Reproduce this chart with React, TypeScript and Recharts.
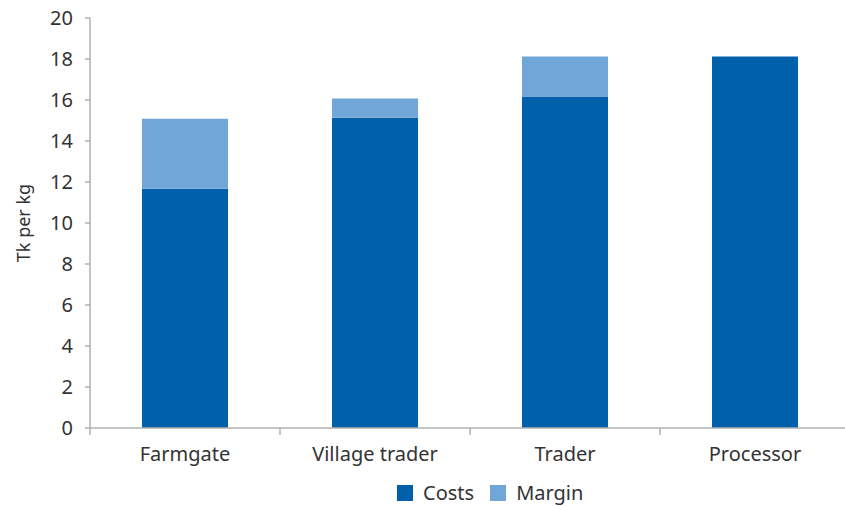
import { BarChart, Bar, XAxis, YAxis, Legend } from "recharts";

const stages = ["Farmgate", "Village trader", "Trader", "Processor"];
const costs = [11.67, 15.14, 16.17, 18.12];
const margin = [3.42, 0.93, 1.95, 0];
const yTicks = [0, 2, 4, 6, 8, 10, 12, 14, 16, 18, 20];

const data = stages.map((stage, i) => ({
  stage,
  Costs: costs[i],
  Margin: margin[i],
}));

const FONT = "'Noto Sans', sans-serif";
const TEXT = "#333333";
const AXIS = "#B0B0B0";
const COST_COLOR = "#0060A9";
const MARGIN_COLOR = "#70A6D8";

function StageTick(props: any) {
  const { x, y, payload } = props;
  const half = payload.offset || 0;
  const axisY = y - 19;
  return (
    <g>
      <line x1={x - half} y1={axisY} x2={x - half} y2={axisY + 7} stroke={AXIS} strokeWidth={1.5} />
      <text x={x} y={y} dy="0.71em" textAnchor="middle" fill={TEXT} fontSize={20} fontFamily={FONT}>
        {payload.value}
      </text>
    </g>
  );
}

function LegendBox() {
  const items = [
    { name: "Costs", color: COST_COLOR },
    { name: "Margin", color: MARGIN_COLOR },
  ];
  return (
    <div style={{ display: "flex", alignItems: "center", fontFamily: FONT, fontSize: 20, lineHeight: "26px", color: TEXT, whiteSpace: "nowrap" }}>
      {items.map((it) => (
        <div key={it.name} style={{ display: "flex", alignItems: "center", marginRight: 16 }}>
          <span style={{ width: 16, height: 16, background: it.color, display: "inline-block", marginRight: 10 }} />
          <span>{it.name}</span>
        </div>
      ))}
    </div>
  );
}

export default function App() {
  return (
    <div style={{ position: "absolute", left: 0, top: 0, width: 845, height: 506, overflow: "hidden", background: "#fff" }}>
      <BarChart
        width={850}
        height={506}
        data={data}
        margin={{ top: 18, right: 0, bottom: 38, left: 0 }}
        barSize={86}
      >
        <YAxis
          width={90}
          domain={[0, 20]}
          ticks={yTicks}
          interval={0}
          axisLine={{ stroke: AXIS, strokeWidth: 1.5 }}
          tickLine={{ stroke: AXIS, strokeWidth: 1.5 }}
          tickSize={5}
          tickMargin={12}
          tick={{ fill: TEXT, fontSize: 20, fontFamily: FONT }}
          label={{
            content: (p: any) => (
              <text
                x={p.viewBox.x + 23}
                y={p.viewBox.y + p.viewBox.height / 2}
                transform={`rotate(-90, ${p.viewBox.x + 23}, ${p.viewBox.y + p.viewBox.height / 2})`}
                textAnchor="middle"
                dominantBaseline="central"
                fill={TEXT}
                fontSize={18}
                fontFamily={FONT}
              >
                Tk per kg
              </text>
            ),
          }}
        />
        <XAxis
          dataKey="stage"
          height={40}
          interval={0}
          axisLine={{ stroke: AXIS, strokeWidth: 1.5 }}
          tickLine={false}
          tickSize={8}
          tickMargin={11}
          tick={<StageTick />}
        />
        <Legend
          layout="vertical"
          verticalAlign="middle"
          align="center"
          content={() => <LegendBox />}
          wrapperStyle={{ position: "absolute", top: 480, left: 397, width: 220, height: 26 }}
        />
        <Bar dataKey="Costs" stackId="a" fill={COST_COLOR} isAnimationActive={false} />
        <Bar dataKey="Margin" stackId="a" fill={MARGIN_COLOR} isAnimationActive={false} />
      </BarChart>
    </div>
  );
}
